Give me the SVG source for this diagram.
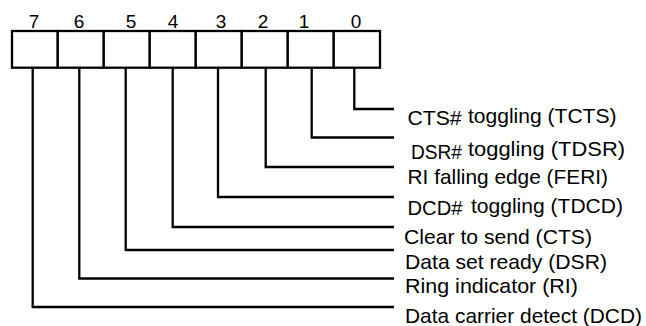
<svg xmlns="http://www.w3.org/2000/svg" width="646" height="326" viewBox="0 0 646 326">
<style>
.box{fill:#fff;stroke:#000;stroke-width:2.3}
.wire{fill:none;stroke:#000;stroke-width:2.3;stroke-linejoin:miter}
.bit{font-family:"Liberation Sans",Arial,sans-serif;font-size:19px;fill:#000;text-anchor:middle}
.lbl{font-family:"Liberation Sans",Arial,sans-serif;font-size:21px;fill:#000}
.sm{font-size:20px}
</style>
<rect width="646" height="326" fill="#fff"/>
<g id="register">
<rect class="box" x="12" y="31" width="45.75" height="36.7"/>
<rect class="box" x="57.75" y="31" width="46" height="36.7"/>
<rect class="box" x="103.75" y="31" width="46" height="36.7"/>
<rect class="box" x="149.75" y="31" width="46" height="36.7"/>
<rect class="box" x="195.75" y="31" width="46" height="36.7"/>
<rect class="box" x="241.75" y="31" width="46" height="36.7"/>
<rect class="box" x="287.75" y="31" width="46" height="36.7"/>
<rect class="box" x="333.75" y="31" width="46.25" height="36.7"/>
<text class="bit" x="34" y="27.5">7</text>
<text class="bit" x="79" y="27.5">6</text>
<text class="bit" x="131" y="27.5">5</text>
<text class="bit" x="173" y="27.5">4</text>
<text class="bit" x="221" y="27.5">3</text>
<text class="bit" x="263" y="27.5">2</text>
<text class="bit" x="304" y="27.5">1</text>
<text class="bit" x="356" y="27.5">0</text>
</g>
<g id="connectors">
<path class="wire" d="M354.3 67.7V109H394"/>
<path class="wire" d="M311.7 67.7V137.5H394"/>
<path class="wire" d="M265.7 67.7V167H394"/>
<path class="wire" d="M218 67.7V197H394"/>
<path class="wire" d="M172.7 67.7V227H394"/>
<path class="wire" d="M125.7 67.7V250H394"/>
<path class="wire" d="M79.3 67.7V278.5H394"/>
<path class="wire" d="M32.7 67.7V307H394"/>
</g>
<g id="label-tcts">
<text class="lbl sm" x="407.5" y="125" textLength="54" lengthAdjust="spacingAndGlyphs">CTS#</text>
<text class="lbl" x="468" y="123" textLength="148.5" lengthAdjust="spacingAndGlyphs">toggling (TCTS)</text>
</g>
<g id="label-tdsr">
<text class="lbl sm" x="411" y="158.5" textLength="51" lengthAdjust="spacingAndGlyphs">DSR#</text>
<text class="lbl" x="468" y="156" textLength="157" lengthAdjust="spacingAndGlyphs">toggling (TDSR)</text>
</g>
<g id="label-feri">
<text class="lbl" x="407.5" y="184" textLength="200.5" lengthAdjust="spacingAndGlyphs">RI falling edge (FERI)</text>
</g>
<g id="label-tdcd">
<text class="lbl sm" x="407.5" y="215" textLength="55" lengthAdjust="spacingAndGlyphs">DCD#</text>
<text class="lbl" x="471" y="213" textLength="152" lengthAdjust="spacingAndGlyphs">toggling (TDCD)</text>
</g>
<g id="label-cts">
<text class="lbl" x="404" y="243.5" textLength="188" lengthAdjust="spacingAndGlyphs">Clear to send (CTS)</text>
</g>
<g id="label-dsr">
<text class="lbl" x="405" y="268.5" textLength="202" lengthAdjust="spacingAndGlyphs">Data set ready (DSR)</text>
</g>
<g id="label-ri">
<text class="lbl" x="405" y="293" textLength="173" lengthAdjust="spacingAndGlyphs">Ring indicator (RI)</text>
</g>
<g id="label-dcd">
<text class="lbl" x="405" y="322.5" textLength="237" lengthAdjust="spacingAndGlyphs">Data carrier detect (DCD)</text>
</g>
</svg>
